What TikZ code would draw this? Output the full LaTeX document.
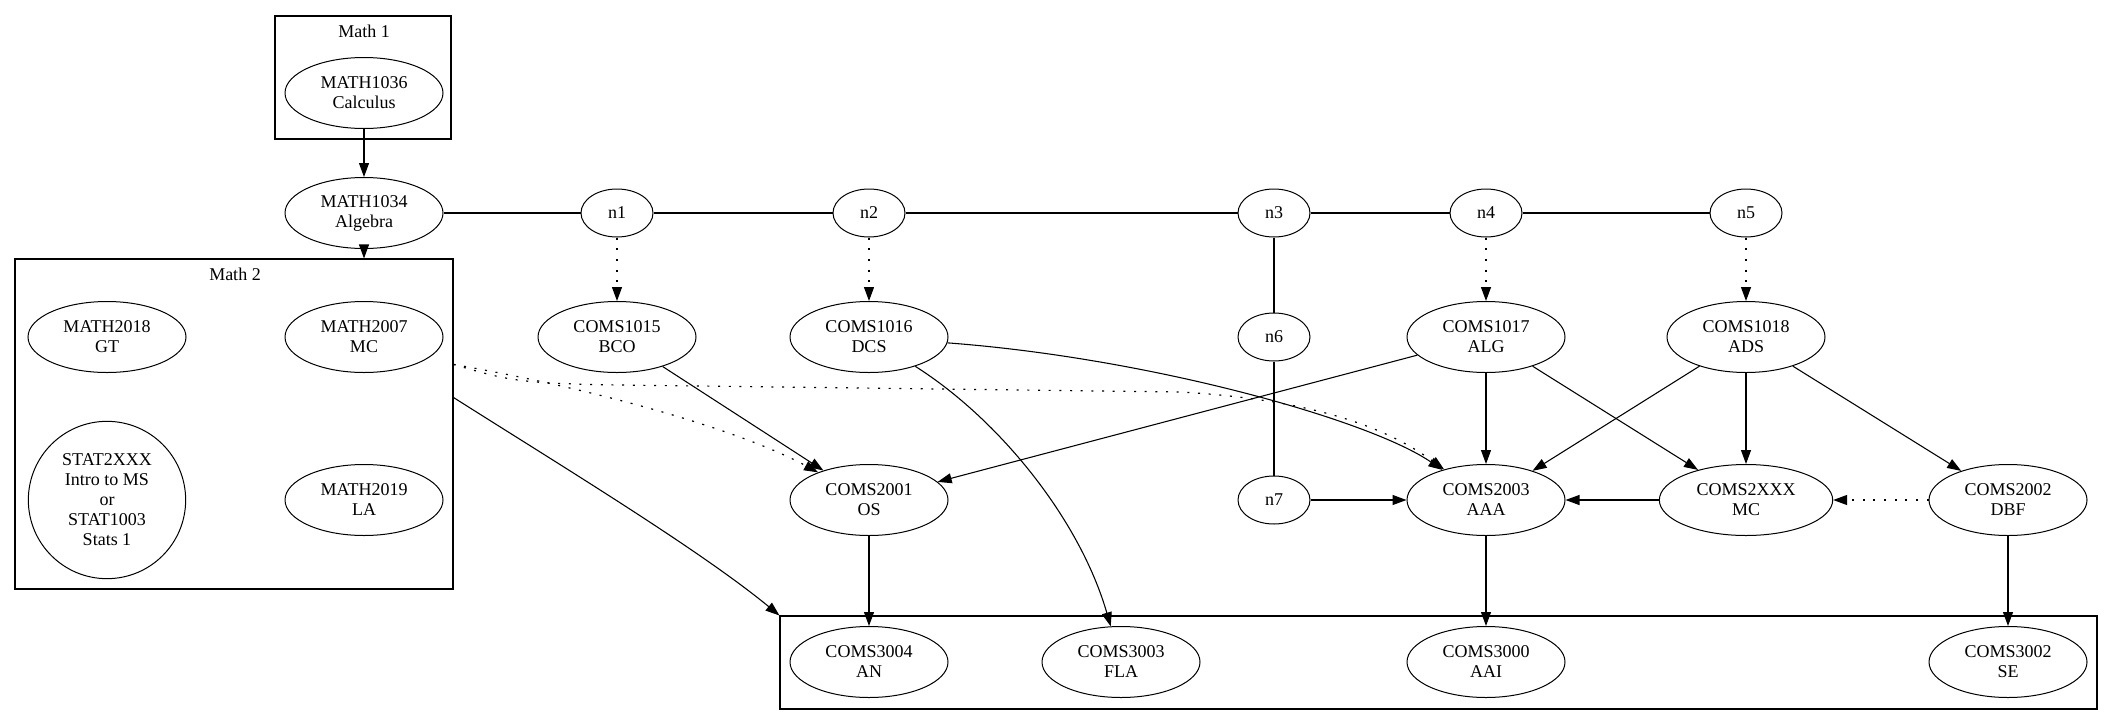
\documentclass[tikz,border=0pt]{standalone}
\usepackage{fontspec}
\setmainfont{Liberation Serif}
\usetikzlibrary{shapes.geometric,arrows.meta,calc}
\begin{document}
\begin{tikzpicture}[x=0.75pt,y=-0.75pt,
  every node/.style={font=\fontsize{13.5}{15}\selectfont, align=center, inner sep=0pt},
  ell/.style={draw, ellipse, line width=0.75pt, minimum width=118.5pt, minimum height=53.25pt},
  wideell/.style={ell, minimum width=130pt},
  small/.style={draw, ellipse, line width=0.75pt, minimum width=54pt, minimum height=36pt},
  circ/.style={draw, circle, line width=0.75pt, minimum size=118pt},
  clus/.style={draw, rectangle, line width=0.8pt},
  arr/.style={line width=0.8pt, -{Triangle[length=10.5pt,width=7.5pt]}},
  ln/.style={line width=0.8pt},
  dotarr/.style={line width=0.9pt, dash pattern=on 1.5pt off 6.5pt, -{Triangle[length=10.5pt,width=7.5pt]}}]
\useasboundingbox (0,0) rectangle (2113,725);

% clusters
\node[clus, minimum width=132pt, minimum height=92.25pt] (math1) at (363,77.5) {};
\node (math1lbl) at (364,31) {Math 1};
\node[clus, minimum width=328.5pt, minimum height=247.5pt] (math2) at (234,424) {};
\node (math2lbl) at (235,274) {Math 2};
\node[clus, minimum width=987.75pt, minimum height=69.75pt] (year3) at (1438.5,662.5) {};

% nodes
\node[ell] (m1036) at (364,93) {MATH1036\\Calculus};
\node[ell] (m1034) at (364,213) {MATH1034\\Algebra};
\node[ell] (m2018) at (107,337) {MATH2018\\GT};
\node[ell] (m2007) at (364,337) {MATH2007\\MC};
\node[circ] (stat) at (107,500) {STAT2XXX\\Intro to MS\\or\\STAT1003\\Stats 1};
\node[ell] (m2019) at (364,500) {MATH2019\\LA};

\node[small] (n1) at (617,213) {n1};
\node[small] (n2) at (869,213) {n2};
\node[small] (n3) at (1274,213) {n3};
\node[small] (n4) at (1486,213) {n4};
\node[small] (n5) at (1746,213) {n5};

\node[ell] (c1015) at (617,337) {COMS1015\\BCO};
\node[ell] (c1016) at (869,337) {COMS1016\\DCS};
\node[small] (n6) at (1274,337) {n6};
\node[ell] (c1017) at (1486,337) {COMS1017\\ALG};
\node[ell] (c1018) at (1746,337) {COMS1018\\ADS};

\node[ell] (c2001) at (869,500) {COMS2001\\OS};
\node[small] (n7) at (1274,500) {n7};
\node[ell] (c2003) at (1486,500) {COMS2003\\AAA};
\node[wideell] (c2xxx) at (1746,500) {COMS2XXX\\MC};
\node[ell] (c2002) at (2008,500) {COMS2002\\DBF};

\node[ell] (c3004) at (869,662) {COMS3004\\AN};
\node[ell] (c3003) at (1121,662) {COMS3003\\FLA};
\node[ell] (c3000) at (1486,662) {COMS3000\\AAI};
\node[ell] (c3002) at (2008,662) {COMS3002\\SE};

% coordinates on the Math 2 cluster border
\coordinate (m2a) at ($(math2.north east)!0.32!(math2.south east)$);
\coordinate (m2b) at ($(math2.north east)!0.42!(math2.south east)$);

% edges
\draw[arr] (m1036) -- (m1034);
\draw[arr] (m1034) -- (m1034 |- math2.north);
\draw[ln] (m1034) -- (n1) -- (n2) -- (n3) -- (n4) -- (n5);
\draw[ln] (n3) -- (n6) -- (n7);
\draw[dotarr] (n1) -- (c1015);
\draw[dotarr] (n2) -- (c1016);
\draw[dotarr] (n4) -- (c1017);
\draw[dotarr] (n5) -- (c1018);
\draw[arr] (n7) -- (c2003);
\draw[arr] (c1015) -- (c2001);
\draw[arr] (c1016) .. controls (1150,358) and (1370,420) .. (c2003);
\draw[arr] (c1016) .. controls (1000,420) and (1080,520) .. (c3003);
\draw[arr] (c1017) -- (c2001);
\draw[arr] (c1017) -- (c2003);
\draw[arr] (c1017) -- (c2xxx);
\draw[arr] (c1018) -- (c2003);
\draw[arr] (c1018) -- (c2xxx);
\draw[arr] (c1018) -- (c2002);
\draw[arr] (c2xxx) -- (c2003);
\draw[dotarr] (c2002) -- (c2xxx);
\draw[arr] (c2001) -- (c3004);
\draw[arr] (c2003) -- (c3000);
\draw[arr] (c2002) -- (c3002);
\draw[dotarr] (m2a) .. controls (600,390) and (740,430) .. (c2001);
\draw[dotarr] (m2a) .. controls (520,384) .. (700,386) -- (1180,392) .. controls (1320,400) and (1390,430) .. (c2003);
\draw[arr] (m2b) .. controls (560,465) and (700,550) .. (year3.north west);
\end{tikzpicture}
\end{document}
